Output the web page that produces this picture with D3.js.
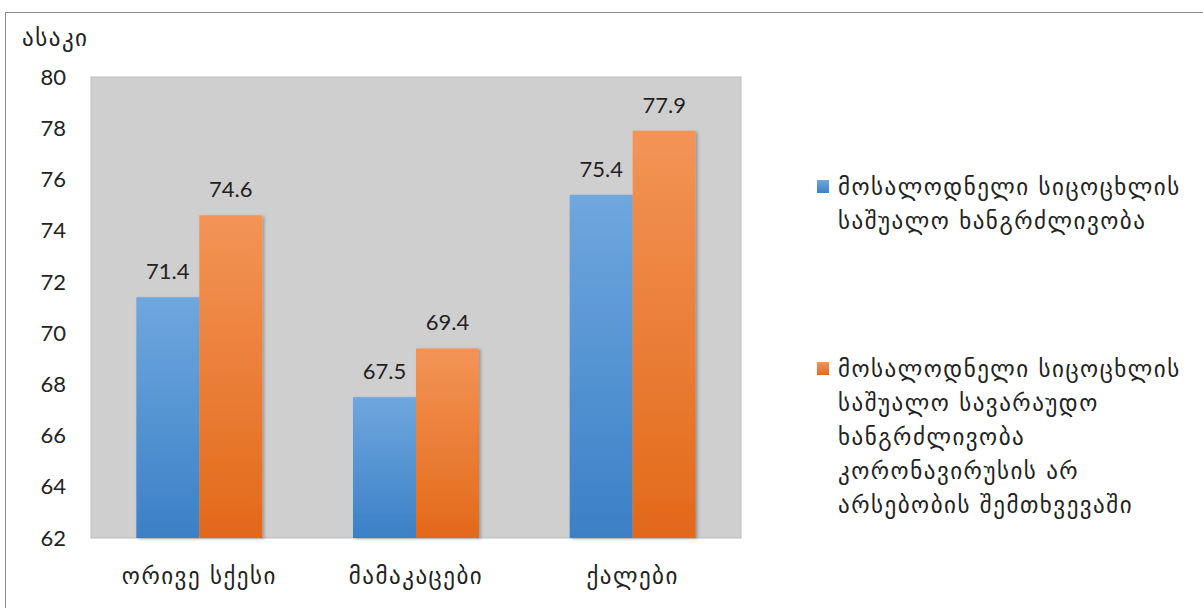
<!DOCTYPE html>
<html><head><meta charset="utf-8">
<script src="https://cdn.jsdelivr.net/npm/d3@7"></script>
<style>
html,body{margin:0;padding:0;background:#fff;}
svg{display:block;font-family:"Lato","DejaVu Sans",sans-serif;}
.geo{font-family:"DejaVu Sans",sans-serif;letter-spacing:1.5px;}
</style></head>
<body><svg id="c" width="1203" height="608"></svg>
<script>
const categories = ["ორივე სქესი", "მამაკაცები", "ქალები"];
const seriesNames = [
  ["მოსალოდნელი სიცოცხლის", "საშუალო ხანგრძლივობა"],
  ["მოსალოდნელი სიცოცხლის", "საშუალო სავარაუდო", "ხანგრძლივობა", "კორონავირუსის არ", "არსებობის შემთხვევაში"]
];
const seriesA = [71.4, 67.5, 75.4];
const seriesB = [74.6, 69.4, 77.9];
const yTicks = [62, 64, 66, 68, 70, 72, 74, 76, 78, 80];
const yTitle = "ასაკი";

const svg = d3.select("#c");
const defs = svg.append("defs");
function grad(id, top, bottom){
  const g = defs.append("linearGradient").attr("id", id).attr("x1",0).attr("y1",0).attr("x2",0).attr("y2",1);
  g.append("stop").attr("offset","0%").attr("stop-color",top);
  g.append("stop").attr("offset","100%").attr("stop-color",bottom);
}
grad("gA", "#6fa7de", "#3b80c6");
grad("gB", "#f39456", "#e2691a");
const f = defs.append("filter").attr("id","sh").attr("x","-20%").attr("y","-10%").attr("width","150%").attr("height","130%");
f.append("feDropShadow").attr("dx",2).attr("dy",1).attr("stdDeviation",1.5).attr("flood-color","#000").attr("flood-opacity",0.25);

// outer frame
svg.append("rect").attr("x",5.5).attr("y",12.5).attr("width",1220).attr("height",620)
  .attr("fill","none").attr("stroke","#8a8a8a").attr("stroke-width",1);

const plot = {x0: 91, x1: 741, y0: 77, y1: 538};
const x = d3.scaleBand().domain(categories).range([plot.x0, plot.x1]).paddingInner(0).paddingOuter(0);
const y = d3.scaleLinear().domain([62, 80]).range([plot.y1, plot.y0]);
const barW = 63;

svg.append("rect").attr("x",plot.x0).attr("y",plot.y0).attr("width",plot.x1-plot.x0).attr("height",plot.y1-plot.y0)
  .attr("fill","#d0cfd0").attr("stroke","#bdbdbd").attr("stroke-width",1);

const data = categories.map((c,i)=>({c, a: seriesA[i], b: seriesB[i]}));
const g = svg.append("g");
data.forEach(d=>{
  const cx = x(d.c) + x.bandwidth()/2;
  [["a","url(#gA)",cx-barW],["b","url(#gB)",cx]].forEach(([k,fill,bx])=>{
    g.append("rect").attr("x",bx).attr("y",y(d[k])).attr("width",barW).attr("height",y(62)-y(d[k]))
      .attr("fill",fill).attr("filter","url(#sh)");
    g.append("text").attr("x",bx+barW/2).attr("y",y(d[k])-18).attr("text-anchor","middle")
      .attr("font-size",22).attr("fill","#222").text(d3.format(".1f")(d[k]));
  });
});

// y axis labels
svg.append("g").selectAll("text").data(yTicks).join("text")
  .attr("x",66).attr("y",d=>y(d)).attr("dy","0.35em").attr("text-anchor","end")
  .attr("font-size",22).attr("fill","#222").text(d=>d);
svg.append("text").attr("class","geo").attr("x",22).attr("y",46).attr("font-size",23).attr("fill","#222").text(yTitle);

// x axis labels
svg.append("g").selectAll("text").data(categories).join("text").attr("class","geo")
  .attr("x",d=>x(d)+x.bandwidth()/2).attr("y",584).attr("text-anchor","middle")
  .attr("font-size",23).attr("fill","#222").text(d=>d);

// legend
const legY = [187, 369];
const legFill = ["url(#gA)","url(#gB)"];
seriesNames.forEach((lines,i)=>{
  svg.append("rect").attr("x",817).attr("y",legY[i]-7).attr("width",12).attr("height",13).attr("fill",legFill[i]);
  const t = svg.append("text").attr("class","geo").attr("x",838).attr("y",legY[i]).attr("font-size",23).attr("fill","#222");
  lines.forEach((l,j)=>{
    t.append("tspan").attr("x",838).attr("dy", j===0 ? "0.35em" : 34).text(l);
  });
});
</script></body></html>
